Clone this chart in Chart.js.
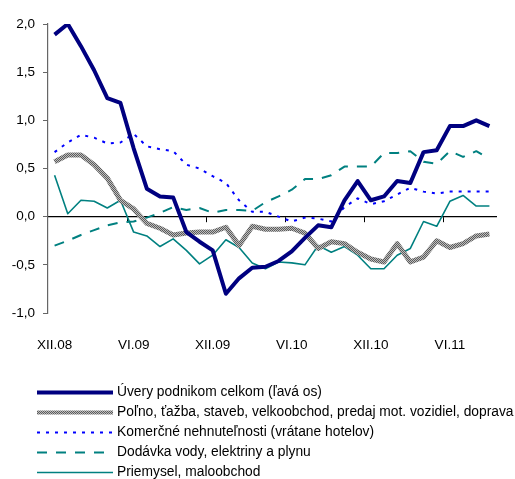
<!DOCTYPE html>
<html>
<head>
<meta charset="utf-8">
<script src="https://cdn.jsdelivr.net/npm/chart.js@4/dist/chart.umd.min.js"></script>
<style>
  html, body { margin: 0; padding: 0; background: #fff; }
  #wrap { position: relative; width: 515px; height: 479px; }
</style>
</head>
<body>
<div id="wrap"><canvas id="c"></canvas></div>
<script>
// ---- data ----
const months = ['XII.08','I.09','II.09','III.09','IV.09','V.09','VI.09','VII.09','VIII.09','IX.09','X.09','XI.09',
  'XII.09','I.10','II.10','III.10','IV.10','V.10','VI.10','VII.10','VIII.10','IX.10','X.10','XI.10',
  'XII.10','I.11','II.11','III.11','IV.11','V.11','VI.11','VII.11','VIII.11','IX.11'];
const tickEvery = 6;
const seriesNames = [
  'Úvery podnikom celkom (ľavá os)',
  'Poľno, ťažba, staveb, velkoobchod, predaj mot. vozidiel, doprava',
  'Komerčné nehnuteľnosti (vrátane hotelov)',
  'Dodávka vody, elektriny a plynu',
  'Priemysel, maloobchod'
];
const uvery = [1.89, 2.00, 1.77, 1.52, 1.23, 1.18, 0.71, 0.29, 0.21, 0.20, -0.16, -0.26, -0.35, -0.80, -0.64, -0.53, -0.52,
  -0.46, -0.36, -0.22, -0.09, -0.11, 0.17, 0.37, 0.17, 0.21, 0.37, 0.35, 0.67, 0.69, 0.94, 0.94, 1.00, 0.94];
const polno = [0.57, 0.64, 0.64, 0.54, 0.40, 0.17, 0.08, -0.07, -0.12, -0.19, -0.17, -0.16, -0.16, -0.11, -0.30, -0.10, -0.13,
  -0.13, -0.12, -0.17, -0.33, -0.26, -0.28, -0.37, -0.44, -0.47, -0.28, -0.47, -0.42, -0.25, -0.32, -0.28, -0.20, -0.18];
const komercne = [0.67, 0.77, 0.85, 0.82, 0.76, 0.77, 0.86, 0.73, 0.70, 0.68, 0.54, 0.50, 0.42, 0.35, 0.17, 0.05, 0.05,
  0.00, -0.05, -0.01, -0.02, -0.05, 0.10, 0.19, 0.13, 0.16, 0.23, 0.30, 0.26, 0.24, 0.26, 0.26, 0.26, 0.26];
const dodavka = [-0.30, -0.25, -0.19, -0.14, -0.09, -0.06, -0.05, -0.01, 0.04, 0.10, 0.07, 0.09, 0.04, 0.07, 0.07, 0.06, 0.15,
  0.21, 0.28, 0.39, 0.39, 0.43, 0.52, 0.52, 0.52, 0.66, 0.66, 0.68, 0.57, 0.55, 0.68, 0.62, 0.68, 0.60];
const priemysel = [0.43, 0.03, 0.17, 0.16, 0.09, 0.17, -0.16, -0.20, -0.31, -0.23, -0.35, -0.49, -0.40, -0.24, -0.32, -0.48, -0.54,
  -0.47, -0.48, -0.50, -0.30, -0.37, -0.31, -0.40, -0.54, -0.54, -0.40, -0.33, -0.05, -0.10, 0.16, 0.22, 0.11, 0.11];
const yMin = -1, yMax = 2, yStep = 0.5;

// ---- styles ----
const FONT = "'Liberation Sans', Arial, sans-serif";
function makeHatch() {
  const c = document.createElement('canvas');
  c.width = 2; c.height = 2;
  const g = c.getContext('2d');
  g.fillStyle = '#bdbdbd'; g.fillRect(0, 0, 2, 2);
  g.fillStyle = '#5c5c5c'; g.fillRect(0, 0, 1, 1); g.fillRect(1, 1, 1, 1);
  return g.createPattern(c, 'repeat');
}
const hatch = makeHatch();

const styles = [
  { color: '#000080', width: 4, dash: [] },
  { color: hatch, width: 5, dash: [] },
  { color: '#0000ff', width: 2, dash: [3, 6] },
  { color: '#008080', width: 2, dash: [10, 9] },
  { color: '#008080', width: 1.6, dash: [] }
];
const seriesData = [uvery, polno, komercne, dodavka, priemysel];

const datasets = seriesData.map((d, i) => ({
  label: seriesNames[i],
  data: d,
  xAxisID: 'x',
  yAxisID: 'y',
  borderColor: styles[i].color,
  backgroundColor: styles[i].color,
  borderWidth: styles[i].width,
  borderDash: styles[i].dash,
  borderJoinStyle: 'round',
  borderCapStyle: 'butt',
  pointRadius: 0,
  pointHoverRadius: 0,
  tension: 0,
  fill: false
}));

const lineLegend = {
  id: 'lineLegend',
  afterDraw(chart) {
    const ctx = chart.ctx;
    const rowStep = 20;
    const firstRow = chart.height - 87;
    const x0 = 37, x1 = 113, tx = 117;
    ctx.save();
    chart.data.datasets.forEach((ds, i) => {
      const y = Math.round(firstRow + i * rowStep) + 0.5;
      ctx.beginPath();
      ctx.strokeStyle = ds.borderColor;
      ctx.lineWidth = Math.min(ds.borderWidth, 4);
      ctx.setLineDash(ds.borderDash || []);
      ctx.lineCap = 'butt';
      ctx.moveTo(x0, y);
      ctx.lineTo(x1, y);
      ctx.stroke();
      ctx.setLineDash([]);
      ctx.fillStyle = '#000';
      ctx.font = '13.8px ' + FONT;
      ctx.textAlign = 'left';
      ctx.textBaseline = 'middle';
      ctx.fillText(ds.label, tx, y);
    });
    ctx.restore();
  }
};

new Chart(document.getElementById('c'), {
  type: 'line',
  data: { labels: months, datasets },
  options: {
    responsive: true,
    maintainAspectRatio: false,
    animation: false,
    layout: { padding: { top: 24, right: 19, bottom: 0, left: 0 } },
    plugins: { legend: { display: false }, tooltip: { enabled: false } },
    scales: {
      x: {
        type: 'category',
        position: 'bottom',
        offset: true,
        grid: { display: false },
        border: { display: false },
        ticks: {
          autoSkip: false, maxRotation: 0, minRotation: 0, padding: 16,
          color: '#000', font: { family: FONT, size: 13.5 },
          callback: (v, i) => (i % tickEvery === 0 ? months[i] : '')
        },
        afterFit: (s) => { s.height = 166; }
      },
      x0: {
        type: 'category',
        labels: months,
        position: { y: 0 },
        offset: true,
        grid: {
          offset: true, drawOnChartArea: false, drawTicks: true, tickLength: 5, lineWidth: 1,
          color: (c) => (c.index > 0 && c.index % tickEvery === 0 ? '#000' : 'rgba(0,0,0,0)')
        },
        border: { display: true, color: '#000', width: 1.2 },
        ticks: { display: false, autoSkip: false }
      },
      y: {
        min: yMin, max: yMax,
        ticks: {
          stepSize: yStep, padding: 8, color: '#000', font: { family: FONT, size: 13.5 },
          callback: (v) => v.toFixed(1).replace('.', ',')
        },
        grid: { drawOnChartArea: false, drawTicks: true, tickLength: 5, color: '#666' },
        border: { display: true, color: '#666', width: 1.2 },
        afterFit: (s) => { s.width = 48; }
      }
    }
  },
  plugins: [lineLegend]
});
</script>
</body>
</html>
